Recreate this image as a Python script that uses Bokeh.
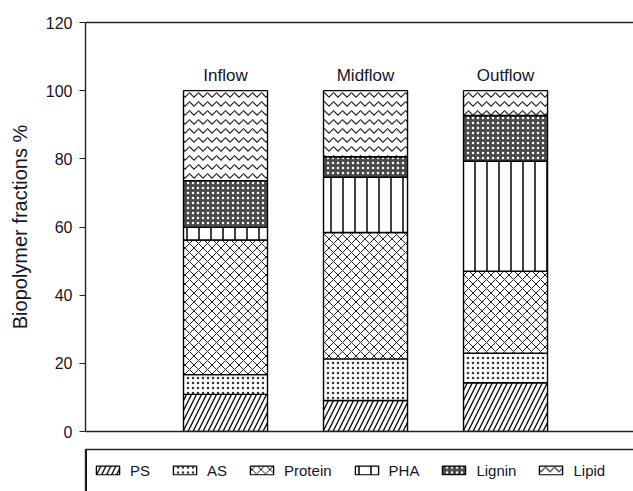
from bokeh.plotting import figure
from bokeh.models import Range1d, LinearAxis, Legend, LegendItem, ColumnDataSource, FixedTicker
from bokeh.layouts import column
from bokeh.transform import stack
from bokeh.core.properties import value
from bokeh.embed import file_html
from bokeh.resources import INLINE

# ---- data ----
categories = ["Inflow", "Midflow", "Outflow"]
series_names = ["PS", "AS", "Protein", "PHA", "Lignin", "Lipid"]
PS = [10.9, 9.1, 14.3]
AS = [5.8, 12.2, 8.7]
Protein = [39.5, 37.1, 24.0]
PHA = [3.7, 16.2, 32.3]
Lignin = [13.7, 6.0, 13.4]
Lipid = [26.4, 19.4, 7.3]
y_ticks = [0, 20, 40, 60, 80, 100, 120]

FONT = "Liberation Sans"
TXT = "#14142a"
AX = "#222222"

xpos = [i + 1 for i in range(len(categories))]
source = ColumnDataSource(data=dict(x=xpos, cat=categories, PS=PS, AS=AS,
                                    Protein=Protein, PHA=PHA, Lignin=Lignin, Lipid=Lipid))

styles = [
    dict(fill_color="white", hatch_pattern="/", hatch_color="black", hatch_scale=10, hatch_weight=1.3),
    dict(fill_color="white", hatch_pattern=".", hatch_color="#333333", hatch_scale=5, hatch_weight=0.8),
    dict(fill_color="white", hatch_pattern="x", hatch_color="#222222", hatch_scale=9, hatch_weight=1.0),
    dict(fill_color="white", hatch_pattern="|", hatch_color="black", hatch_scale=12, hatch_weight=1.5),
    dict(fill_color="#4a4a4a", hatch_pattern=".", hatch_color="white", hatch_scale=5, hatch_weight=1.1),
    dict(fill_color="white", hatch_pattern="v", hatch_color="#222222", hatch_scale=9, hatch_weight=1.2),
]

p = figure(width=633, height=440, x_range=Range1d(0, 3.914), y_range=Range1d(0, 120),
           output_backend="svg", toolbar_location=None,
           min_border_left=85, min_border_top=22, min_border_right=0, min_border_bottom=9)
p.outline_line_color = None
p.grid.visible = False
p.background_fill_color = "white"

bottoms = []
for name, st in zip(series_names, styles):
    p.vbar(x="x", width=0.6, bottom=stack(*bottoms), top=stack(*(bottoms + [name])),
           source=source, line_color="black", line_width=1.4, **st)
    bottoms.append(name)

# category labels
p.text(x="x", y=104.4, text="cat", source=source, text_align="center",
       text_baseline="alphabetic", text_font=value(FONT), text_font_size="17px",
       text_color=TXT)

# y axis
ya = p.yaxis[0]
ya.ticker = y_ticks
ya.axis_label = "Biopolymer fractions %"
ya.axis_label_text_font = FONT
ya.axis_label_text_font_size = "20px"
ya.axis_label_text_font_style = "normal"
ya.axis_label_text_color = TXT
ya.axis_label_standoff = 12
ya.major_label_text_font = FONT
ya.major_label_text_font_size = "16px"
ya.major_label_text_color = TXT
ya.major_label_standoff = 7
ya.major_tick_out = 6
ya.major_tick_in = 0
ya.minor_tick_line_color = None
ya.major_tick_line_color = AX
ya.axis_line_color = AX
ya.axis_line_width = 1.4
ya.major_tick_line_width = 1.2

def bare_axis(ax):
    ax.ticker = FixedTicker(ticks=[])
    ax.major_tick_line_color = None
    ax.minor_tick_line_color = None
    ax.major_label_standoff = 0
    ax.axis_line_color = AX
    ax.axis_line_width = 1.4

bare_axis(p.xaxis[0])
top_axis = LinearAxis()
bare_axis(top_axis)
p.add_layout(top_axis, "above")

# ---- legend panel (legend proxies use the same data, kept off-range) ----
p2 = figure(width=633, height=51, x_range=Range1d(10, 11), y_range=Range1d(0, 1),
            output_backend="svg", toolbar_location=None,
            x_axis_location="above", y_axis_location="left",
            min_border_left=85, min_border_top=9, min_border_right=0, min_border_bottom=0)
p2.outline_line_color = None
p2.grid.visible = False
bare_axis(p2.xaxis[0])
bare_axis(p2.yaxis[0])

items = []
for name, st in zip(series_names, styles):
    r = p2.vbar(x="x", top=name, width=0.6, source=source,
                line_color="black", line_width=1.3, **st)
    items.append(LegendItem(label=name, renderers=[r]))

leg = Legend(items=items, orientation="horizontal", location="center_left",
             border_line_color=None, background_fill_alpha=0, padding=0, margin=8,
             spacing=20, label_standoff=8, glyph_width=29, glyph_height=11,
             label_text_font=FONT, label_text_font_size="15px", label_text_color=TXT,
             label_width=0)
p2.add_layout(leg)

layout = column(p, p2, spacing=0)
open("out.html", "w").write(file_html(layout, INLINE))
